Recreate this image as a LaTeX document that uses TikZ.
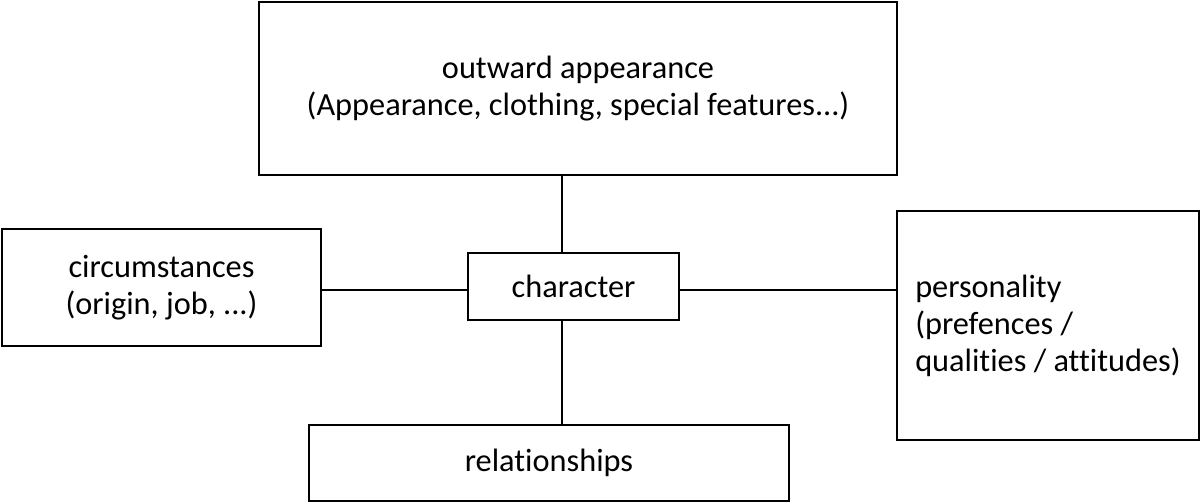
\documentclass[tikz,border=0pt]{standalone}
\usepackage{fontspec}
\setmainfont{Carlito}[Ligatures={NoCommon}]
\usepackage{tikz}
\usetikzlibrary{positioning}

\begin{document}
\begin{tikzpicture}[x=0.02cm, y=-0.02cm]
        \tikzstyle{box}=[draw, line width=0.8pt, inner sep=0pt, align=center, font=\fontsize{18.4pt}{21pt}\selectfont]
        \useasboundingbox (0,0) rectangle (1201,502);

        % Boxes round the character
        \node[box, minimum width=12.76cm, minimum height=3.46cm] (appearance) at (578,88.5)
            {outward appearance\\(Appearance, clothing, special features...)};
        \node[box, minimum width=6.38cm, minimum height=2.34cm] (circumstances) at (161.5,287.5)
            {circumstances\\(origin, job, ...)};
        \node[box, minimum width=4.22cm, minimum height=1.34cm] (character) at (573.5,286.5) {character};
        \node[box, align=left, minimum width=6.04cm, minimum height=4.58cm] (personality) at (1048,325.5)
            {personality\\(prefences /\\qualities / attitudes)};
        \node[box, minimum width=9.6cm, minimum height=1.52cm] (relationships) at (549,463) {relationships};

        % Axis the connectors run on
        \coordinate (axis) at (562,290);

        % Connectors
        \draw[line width=0.8pt] (appearance.south -| axis) -- (character.north -| axis);
        \draw[line width=0.8pt] (character.south -| axis) -- (relationships.north -| axis);
        \draw[line width=0.8pt] (circumstances.east |- axis) -- (character.west |- axis);
        \draw[line width=0.8pt] (character.east |- axis) -- (personality.west |- axis);
\end{tikzpicture}
\end{document}
